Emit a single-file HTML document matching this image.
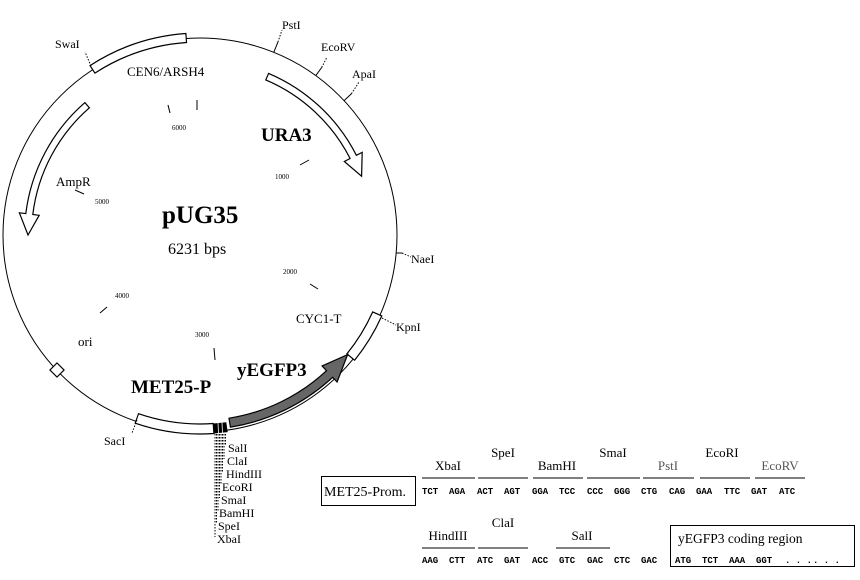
<!DOCTYPE html>
<html><head><meta charset="utf-8"><style>
html,body{margin:0;padding:0;background:#fff;}
svg{display:block;font-family:"Liberation Serif",serif;}
.s{font-family:"Liberation Mono",monospace;font-weight:bold;font-size:9px;}
</style></head><body>
<svg width="860" height="580" viewBox="0 0 860 580" xmlns="http://www.w3.org/2000/svg">
<circle cx="200" cy="235" r="197" fill="none" stroke="#000" stroke-width="1"/>
<path d="M90,65.6 A202,202 0 0 1 185.9,33.5 L186.5,42.5 A193,193 0 0 0 94.9,73.1 Z" fill="#fff" stroke="#000" stroke-width="1.2"/>
<path d="M381.8,315.9 A199 199 0 0 1 354.6,360.2 L346.9,353.9 A189 189 0 0 0 372.7,311.9 Z" fill="#fff" stroke="#000" stroke-width="1.2"/>
<path d="M213.9,433.5 A199 199 0 0 1 135.2,423.2 L138.5,413.7 A189 189 0 0 0 213.2,423.5 Z" fill="#fff" stroke="#000" stroke-width="1.2"/>
<path d="M213.9,433.5 L227.7,432.1 L226.3,422.2 L213.2,423.5 Z" fill="#000"/>
<line x1="218" y1="423" x2="218.5" y2="433" stroke="#fff" stroke-width="0.8"/>
<line x1="222" y1="422.5" x2="222.5" y2="433" stroke="#fff" stroke-width="0.8"/>
<path d="M230.4,427.1 A194.5 194.5 0 0 0 332.6,377.3 L337.1,382 L347.6,354.6 L322.1,365.9 L326.5,370.7 A185.5 185.5 0 0 1 229,418.2 Z" fill="#666" stroke="#000" stroke-width="1.2"/>
<path d="M268.6,73.4 A175.5 175.5 0 0 1 356.4,155.3 L362.2,152.4 L361.6,176.2 L344.3,161.5 L350.1,158.5 A168.5 168.5 0 0 0 265.8,79.9 Z" fill="#fff" stroke="#000" stroke-width="1.2"/>
<path d="M84.9,102.6 A175.5 175.5 0 0 0 25.8,213.6 L19.4,212.8 L28,235 L39.2,215.3 L32.8,214.5 A168.5 168.5 0 0 1 89.4,107.8 Z" fill="#fff" stroke="#000" stroke-width="1.2"/>
<rect x="52" y="365" width="10" height="10" fill="#fff" stroke="#000" stroke-width="1.2" transform="rotate(45 57 370)"/>
<g stroke="#000" stroke-width="1" fill="none">
<line x1="273.8" y1="52.3" x2="277.9" y2="42.1"/>
<line x1="315.8" y1="75.6" x2="321.7" y2="67.5"/>
<line x1="344.1" y1="100.6" x2="351.4" y2="93.8"/>
<line x1="396" y1="253" x2="402" y2="253"/>
<g stroke-dasharray="1.5,1.5">
<line x1="277.9" y1="42.1" x2="282" y2="30"/>
<line x1="321.7" y1="67.5" x2="327" y2="57"/>
<line x1="351.4" y1="93.8" x2="359" y2="82"/>
<line x1="402" y1="253" x2="411" y2="257"/>
<line x1="382" y1="318" x2="396" y2="325"/>
<line x1="137" y1="420" x2="132" y2="433"/>
<line x1="91" y1="66" x2="85" y2="52"/>
<line x1="215" y1="434" x2="215" y2="537"/>
<line x1="216.5" y1="434" x2="216.5" y2="524"/>
<line x1="218" y1="434" x2="218" y2="511"/>
<line x1="219.5" y1="434" x2="219.5" y2="498"/>
<line x1="221" y1="434" x2="221" y2="485"/>
<line x1="222.5" y1="434" x2="222.5" y2="472"/>
<line x1="224" y1="434" x2="224" y2="459"/>
<line x1="225.5" y1="434" x2="225.5" y2="446"/>
</g>
<line x1="168" y1="105" x2="170" y2="113"/>
<line x1="197" y1="100" x2="197" y2="110"/>
<line x1="300" y1="165" x2="309" y2="160"/>
<line x1="75" y1="190" x2="84" y2="194"/>
<line x1="310" y1="284" x2="318" y2="289"/>
<line x1="100" y1="313" x2="107" y2="307"/>
<line x1="214" y1="348" x2="215" y2="360"/>
</g>
<g font-size="7" fill="#000">
<text x="172" y="130">6000</text>
<text x="275" y="179">1000</text>
<text x="95" y="204">5000</text>
<text x="283" y="274">2000</text>
<text x="115" y="298">4000</text>
<text x="195" y="337">3000</text>
</g>
<g font-size="12" fill="#000">
<text x="55" y="48">SwaI</text>
<text x="282" y="29">PstI</text>
<text x="321" y="51">EcoRV</text>
<text x="352" y="78">ApaI</text>
<text x="411" y="263">NaeI</text>
<text x="396" y="331">KpnI</text>
<text x="104" y="445">SacI</text>
</g>
<g font-size="13" fill="#000">
<text x="127" y="76">CEN6/ARSH4</text>
<text x="56" y="186">AmpR</text>
<text x="296" y="323">CYC1-T</text>
<text x="78" y="346">ori</text>
<text x="168" y="254" font-size="16">6231 bps</text>
</g>
<g font-weight="bold" fill="#000">
<text x="162" y="223" font-size="25">pUG35</text>
<text x="261" y="141" font-size="19">URA3</text>
<text x="131" y="393" font-size="19">MET25-P</text>
<text x="237" y="376" font-size="19">yEGFP3</text>
</g>
<g font-size="12" fill="#000">
<text x="228" y="452">SalI</text>
<text x="227" y="465">ClaI</text>
<text x="226" y="478">HindIII</text>
<text x="222" y="491">EcoRI</text>
<text x="221" y="504">SmaI</text>
<text x="219" y="517">BamHI</text>
<text x="218" y="530">SpeI</text>
<text x="217" y="543">XbaI</text>
</g>
<rect x="321.5" y="476.5" width="94" height="29" fill="#fff" stroke="#000"/>
<text x="324" y="496" font-size="14">MET25-Prom.</text>
<g stroke="#000" stroke-width="1">
<line x1="422" y1="478" x2="475" y2="478"/>
<line x1="478" y1="478" x2="528" y2="478"/>
<line x1="533" y1="478" x2="583" y2="478"/>
<line x1="587" y1="478" x2="640" y2="478"/>
<line x1="643" y1="478" x2="694" y2="478"/>
<line x1="700" y1="478" x2="750" y2="478"/>
<line x1="755" y1="478" x2="805" y2="478"/>
<line x1="422" y1="548" x2="475" y2="548"/>
<line x1="478" y1="548" x2="528" y2="548"/>
<line x1="556" y1="548" x2="610" y2="548"/>
</g>
<g font-size="13" fill="#000" text-anchor="middle">
<text x="448" y="470">XbaI</text>
<text x="503" y="457">SpeI</text>
<text x="557" y="470">BamHI</text>
<text x="613" y="457">SmaI</text>
<text x="668" y="470" fill="#555">PstI</text>
<text x="722" y="457">EcoRI</text>
<text x="780" y="470" fill="#555">EcoRV</text>
<text x="448" y="540">HindIII</text>
<text x="503" y="527">ClaI</text>
<text x="582" y="540">SalI</text>
</g>
<g class="s" fill="#000">
<text x="422" y="494">TCT</text><text x="449" y="494">AGA</text>
<text x="477" y="494">ACT</text><text x="504" y="494">AGT</text>
<text x="532" y="494">GGA</text><text x="559" y="494">TCC</text>
<text x="587" y="494">CCC</text><text x="614" y="494">GGG</text>
<text x="641" y="494">CTG</text><text x="669" y="494">CAG</text>
<text x="696" y="494">GAA</text><text x="724" y="494">TTC</text>
<text x="751" y="494">GAT</text><text x="779" y="494">ATC</text>
<text x="422" y="563">AAG</text><text x="449" y="563">CTT</text>
<text x="477" y="563">ATC</text><text x="504" y="563">GAT</text>
<text x="532" y="563">ACC</text><text x="559" y="563">GTC</text>
<text x="587" y="563">GAC</text><text x="614" y="563">CTC</text>
<text x="641" y="563">GAC</text><text x="675" y="563">ATG</text>
<text x="702" y="563">TCT</text><text x="729" y="563">AAA</text>
<text x="756" y="563">GGT</text><text x="785" y="563">. . .</text>
<text x="813" y="563">. . .</text>
</g>
<rect x="670.5" y="525.5" width="184" height="41" fill="none" stroke="#000"/>
<text x="678" y="543" font-size="13.5">yEGFP3 coding region</text>
</svg>
</body></html>
